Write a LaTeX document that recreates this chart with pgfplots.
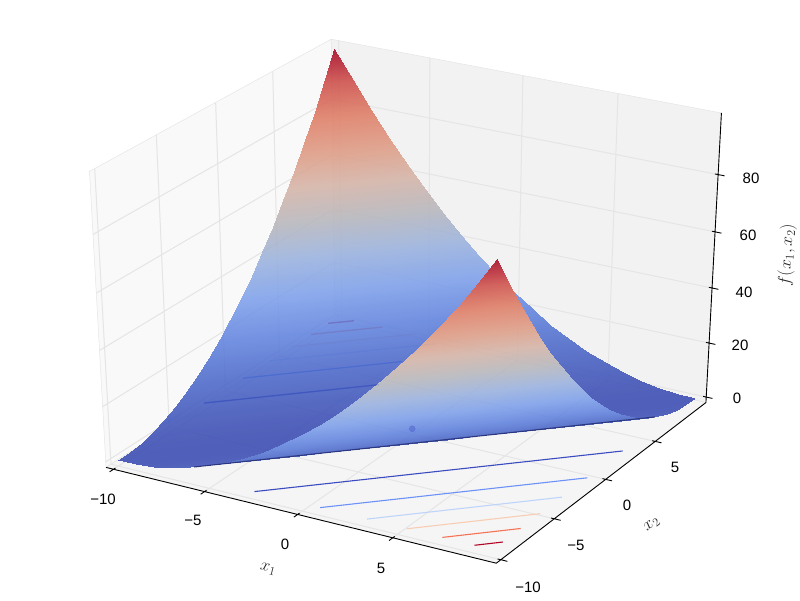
\documentclass[border=0pt]{standalone}
\usepackage{fontspec}
\setmainfont{Liberation Sans}
\usepackage{pgfplots}
\usepackage{pgfplotstable}
\pgfplotsset{compat=1.18}

% surface samples: x1 x2 f, far row first so that near rows paint over it
\pgfplotstableread[row sep=\\]{
a b c\\
-10 9.9 99.00\\ -9 9.9 89.30\\ -8 9.9 80.10\\ -7 9.9 71.40\\ -6 9.9 63.20\\ -5 9.9 55.50\\ -4 9.9 48.30\\ -3 9.9 41.60\\ -2 9.9 35.40\\ -1 9.9 29.70\\ 0 9.9 24.50\\ 1 9.9 19.80\\ 2 9.9 15.60\\ 3 9.9 11.90\\ 4 9.9 8.70\\ 5 9.9 6.00\\ 6 9.9 3.80\\ 7 9.9 2.10\\ 8 9.9 0.90\\ 9 9.9 0.20\\ 9.9 9.9 0\\
-10 9 90.25\\ -9 9 81\\ -8 9 72.25\\ -7 9 64\\ -6 9 56.25\\ -5 9 49\\ -4 9 42.25\\ -3 9 36\\ -2 9 30.25\\ -1 9 25\\ 0 9 20.25\\ 1 9 16\\ 2 9 12.25\\ 3 9 9\\ 4 9 6.25\\ 5 9 4\\ 6 9 2.25\\ 7 9 1\\ 8 9 0.25\\ 9 9 0\\ 9.9 9 0.20\\
-10 8 81\\ -9 8 72.25\\ -8 8 64\\ -7 8 56.25\\ -6 8 49\\ -5 8 42.25\\ -4 8 36\\ -3 8 30.25\\ -2 8 25\\ -1 8 20.25\\ 0 8 16\\ 1 8 12.25\\ 2 8 9\\ 3 8 6.25\\ 4 8 4\\ 5 8 2.25\\ 6 8 1\\ 7 8 0.25\\ 8 8 0\\ 9 8 0.25\\ 9.9 8 0.90\\
-10 7 72.25\\ -9 7 64\\ -8 7 56.25\\ -7 7 49\\ -6 7 42.25\\ -5 7 36\\ -4 7 30.25\\ -3 7 25\\ -2 7 20.25\\ -1 7 16\\ 0 7 12.25\\ 1 7 9\\ 2 7 6.25\\ 3 7 4\\ 4 7 2.25\\ 5 7 1\\ 6 7 0.25\\ 7 7 0\\ 8 7 0.25\\ 9 7 1\\ 9.9 7 2.10\\
-10 6 64\\ -9 6 56.25\\ -8 6 49\\ -7 6 42.25\\ -6 6 36\\ -5 6 30.25\\ -4 6 25\\ -3 6 20.25\\ -2 6 16\\ -1 6 12.25\\ 0 6 9\\ 1 6 6.25\\ 2 6 4\\ 3 6 2.25\\ 4 6 1\\ 5 6 0.25\\ 6 6 0\\ 7 6 0.25\\ 8 6 1\\ 9 6 2.25\\ 9.9 6 3.80\\
-10 5 56.25\\ -9 5 49\\ -8 5 42.25\\ -7 5 36\\ -6 5 30.25\\ -5 5 25\\ -4 5 20.25\\ -3 5 16\\ -2 5 12.25\\ -1 5 9\\ 0 5 6.25\\ 1 5 4\\ 2 5 2.25\\ 3 5 1\\ 4 5 0.25\\ 5 5 0\\ 6 5 0.25\\ 7 5 1\\ 8 5 2.25\\ 9 5 4\\ 9.9 5 6.00\\
-10 4 49\\ -9 4 42.25\\ -8 4 36\\ -7 4 30.25\\ -6 4 25\\ -5 4 20.25\\ -4 4 16\\ -3 4 12.25\\ -2 4 9\\ -1 4 6.25\\ 0 4 4\\ 1 4 2.25\\ 2 4 1\\ 3 4 0.25\\ 4 4 0\\ 5 4 0.25\\ 6 4 1\\ 7 4 2.25\\ 8 4 4\\ 9 4 6.25\\ 9.9 4 8.70\\
-10 3 42.25\\ -9 3 36\\ -8 3 30.25\\ -7 3 25\\ -6 3 20.25\\ -5 3 16\\ -4 3 12.25\\ -3 3 9\\ -2 3 6.25\\ -1 3 4\\ 0 3 2.25\\ 1 3 1\\ 2 3 0.25\\ 3 3 0\\ 4 3 0.25\\ 5 3 1\\ 6 3 2.25\\ 7 3 4\\ 8 3 6.25\\ 9 3 9\\ 9.9 3 11.90\\
-10 2 36\\ -9 2 30.25\\ -8 2 25\\ -7 2 20.25\\ -6 2 16\\ -5 2 12.25\\ -4 2 9\\ -3 2 6.25\\ -2 2 4\\ -1 2 2.25\\ 0 2 1\\ 1 2 0.25\\ 2 2 0\\ 3 2 0.25\\ 4 2 1\\ 5 2 2.25\\ 6 2 4\\ 7 2 6.25\\ 8 2 9\\ 9 2 12.25\\ 9.9 2 15.60\\
-10 1 30.25\\ -9 1 25\\ -8 1 20.25\\ -7 1 16\\ -6 1 12.25\\ -5 1 9\\ -4 1 6.25\\ -3 1 4\\ -2 1 2.25\\ -1 1 1\\ 0 1 0.25\\ 1 1 0\\ 2 1 0.25\\ 3 1 1\\ 4 1 2.25\\ 5 1 4\\ 6 1 6.25\\ 7 1 9\\ 8 1 12.25\\ 9 1 16\\ 9.9 1 19.80\\
-10 0 25\\ -9 0 20.25\\ -8 0 16\\ -7 0 12.25\\ -6 0 9\\ -5 0 6.25\\ -4 0 4\\ -3 0 2.25\\ -2 0 1\\ -1 0 0.25\\ 0 0 0\\ 1 0 0.25\\ 2 0 1\\ 3 0 2.25\\ 4 0 4\\ 5 0 6.25\\ 6 0 9\\ 7 0 12.25\\ 8 0 16\\ 9 0 20.25\\ 9.9 0 24.50\\
-10 -1 20.25\\ -9 -1 16\\ -8 -1 12.25\\ -7 -1 9\\ -6 -1 6.25\\ -5 -1 4\\ -4 -1 2.25\\ -3 -1 1\\ -2 -1 0.25\\ -1 -1 0\\ 0 -1 0.25\\ 1 -1 1\\ 2 -1 2.25\\ 3 -1 4\\ 4 -1 6.25\\ 5 -1 9\\ 6 -1 12.25\\ 7 -1 16\\ 8 -1 20.25\\ 9 -1 25\\ 9.9 -1 29.70\\
-10 -2 16\\ -9 -2 12.25\\ -8 -2 9\\ -7 -2 6.25\\ -6 -2 4\\ -5 -2 2.25\\ -4 -2 1\\ -3 -2 0.25\\ -2 -2 0\\ -1 -2 0.25\\ 0 -2 1\\ 1 -2 2.25\\ 2 -2 4\\ 3 -2 6.25\\ 4 -2 9\\ 5 -2 12.25\\ 6 -2 16\\ 7 -2 20.25\\ 8 -2 25\\ 9 -2 30.25\\ 9.9 -2 35.40\\
-10 -3 12.25\\ -9 -3 9\\ -8 -3 6.25\\ -7 -3 4\\ -6 -3 2.25\\ -5 -3 1\\ -4 -3 0.25\\ -3 -3 0\\ -2 -3 0.25\\ -1 -3 1\\ 0 -3 2.25\\ 1 -3 4\\ 2 -3 6.25\\ 3 -3 9\\ 4 -3 12.25\\ 5 -3 16\\ 6 -3 20.25\\ 7 -3 25\\ 8 -3 30.25\\ 9 -3 36\\ 9.9 -3 41.60\\
-10 -4 9\\ -9 -4 6.25\\ -8 -4 4\\ -7 -4 2.25\\ -6 -4 1\\ -5 -4 0.25\\ -4 -4 0\\ -3 -4 0.25\\ -2 -4 1\\ -1 -4 2.25\\ 0 -4 4\\ 1 -4 6.25\\ 2 -4 9\\ 3 -4 12.25\\ 4 -4 16\\ 5 -4 20.25\\ 6 -4 25\\ 7 -4 30.25\\ 8 -4 36\\ 9 -4 42.25\\ 9.9 -4 48.30\\
-10 -5 6.25\\ -9 -5 4\\ -8 -5 2.25\\ -7 -5 1\\ -6 -5 0.25\\ -5 -5 0\\ -4 -5 0.25\\ -3 -5 1\\ -2 -5 2.25\\ -1 -5 4\\ 0 -5 6.25\\ 1 -5 9\\ 2 -5 12.25\\ 3 -5 16\\ 4 -5 20.25\\ 5 -5 25\\ 6 -5 30.25\\ 7 -5 36\\ 8 -5 42.25\\ 9 -5 49\\ 9.9 -5 55.50\\
-10 -6 4\\ -9 -6 2.25\\ -8 -6 1\\ -7 -6 0.25\\ -6 -6 0\\ -5 -6 0.25\\ -4 -6 1\\ -3 -6 2.25\\ -2 -6 4\\ -1 -6 6.25\\ 0 -6 9\\ 1 -6 12.25\\ 2 -6 16\\ 3 -6 20.25\\ 4 -6 25\\ 5 -6 30.25\\ 6 -6 36\\ 7 -6 42.25\\ 8 -6 49\\ 9 -6 56.25\\ 9.9 -6 63.20\\
-10 -7 2.25\\ -9 -7 1\\ -8 -7 0.25\\ -7 -7 0\\ -6 -7 0.25\\ -5 -7 1\\ -4 -7 2.25\\ -3 -7 4\\ -2 -7 6.25\\ -1 -7 9\\ 0 -7 12.25\\ 1 -7 16\\ 2 -7 20.25\\ 3 -7 25\\ 4 -7 30.25\\ 5 -7 36\\ 6 -7 42.25\\ 7 -7 49\\ 8 -7 56.25\\ 9 -7 64\\ 9.9 -7 71.40\\
-10 -8 1\\ -9 -8 0.25\\ -8 -8 0\\ -7 -8 0.25\\ -6 -8 1\\ -5 -8 2.25\\ -4 -8 4\\ -3 -8 6.25\\ -2 -8 9\\ -1 -8 12.25\\ 0 -8 16\\ 1 -8 20.25\\ 2 -8 25\\ 3 -8 30.25\\ 4 -8 36\\ 5 -8 42.25\\ 6 -8 49\\ 7 -8 56.25\\ 8 -8 64\\ 9 -8 72.25\\ 9.9 -8 80.10\\
-10 -9 0.25\\ -9 -9 0\\ -8 -9 0.25\\ -7 -9 1\\ -6 -9 2.25\\ -5 -9 4\\ -4 -9 6.25\\ -3 -9 9\\ -2 -9 12.25\\ -1 -9 16\\ 0 -9 20.25\\ 1 -9 25\\ 2 -9 30.25\\ 3 -9 36\\ 4 -9 42.25\\ 5 -9 49\\ 6 -9 56.25\\ 7 -9 64\\ 8 -9 72.25\\ 9 -9 81\\ 9.9 -9 89.30\\
-10 -10 0\\ -9 -10 0.25\\ -8 -10 1\\ -7 -10 2.25\\ -6 -10 4\\ -5 -10 6.25\\ -4 -10 9\\ -3 -10 12.25\\ -2 -10 16\\ -1 -10 20.25\\ 0 -10 25\\ 1 -10 30.25\\ 2 -10 36\\ 3 -10 42.25\\ 4 -10 49\\ 5 -10 56.25\\ 6 -10 64\\ 7 -10 72.25\\ 8 -10 81\\ 9 -10 90.25\\ 9.9 -10 99.00\\
}\surfdata

\definecolor{paneL}{gray}{0.975}
\definecolor{paneB}{gray}{0.95}
\definecolor{paneF}{gray}{0.9625}
\definecolor{gridc}{gray}{0.9}
\definecolor{c1}{RGB}{59,76,192}
\definecolor{c2}{RGB}{108,146,250}
\definecolor{c3}{RGB}{190,212,250}
\definecolor{c4}{RGB}{248,205,180}
\definecolor{c5}{RGB}{245,115,85}
\definecolor{c6}{RGB}{180,4,38}

% mplot3d camera: elevation 30, azimuth -60, distance 10, result in pixels of 800x600
\pgfplotsset{table/prj/.style={
  x expr={prjx(\thisrow{a},\thisrow{b},\thisrow{c})},
  y expr={prjy(\thisrow{a},\thisrow{b},\thisrow{c})}}}

\begin{document}
\begin{tikzpicture}[
  declare function={
    qxy(\a)=(\a+10)/19.9-0.5;
    qz(\c)=\c/99-0.5;
    dep(\a,\b,\c)=10-(0.4330127*qxy(\a)-0.75*qxy(\b)+0.5*qz(\c));
    prjx(\a,\b,\c)=(10*(0.8660254*qxy(\a)+0.5*qxy(\b))/dep(\a,\b,\c)+0.95)*800/1.85;
    prjy(\a,\b,\c)=(10*(-0.25*qxy(\a)+0.4330127*qxy(\b)+0.8660254*qz(\c))/dep(\a,\b,\c)+0.95)*600/1.85;
  },
  tl/.style={font=\fontsize{15}{18}\selectfont,inner sep=0pt},
  ml/.style={font=\fontsize{17}{20}\selectfont,inner sep=0pt,color=black!85}]
\begin{axis}[
  scale only axis, width=800pt, height=600pt,
  xmin=0, xmax=800, ymin=0, ymax=600,
  hide axis, clip=false,
  colormap={coolwarm}{rgb255=(54,71,176) rgb255=(71,100,199) rgb255=(94,129,222) rgb255=(123,158,234)
    rgb255=(152,176,222) rgb255=(181,181,187) rgb255=(212,178,165) rgb255=(222,152,128)
    rgb255=(222,122,98) rgb255=(205,75,70) rgb255=(164,0,30)},
  point meta min=0, point meta max=99]
\path (axis cs:0,0) rectangle (axis cs:800,600);

% panes
\addplot[fill=paneL,draw=gridc,line width=0.5pt] table[prj]{
a b c
-10.4146 -10.4146 -2.0625
-10.4146 10.3146 -2.0625
-10.4146 10.3146 101.0625
-10.4146 -10.4146 101.0625
-10.4146 -10.4146 -2.0625
};
\addplot[fill=paneB,draw=gridc,line width=0.5pt] table[prj]{
a b c
-10.4146 10.3146 -2.0625
10.3146 10.3146 -2.0625
10.3146 10.3146 101.0625
-10.4146 10.3146 101.0625
-10.4146 10.3146 -2.0625
};
\addplot[fill=paneF,draw=gridc,line width=0.5pt] table[prj]{
a b c
-10.4146 -10.4146 -2.0625
10.3146 -10.4146 -2.0625
10.3146 10.3146 -2.0625
-10.4146 10.3146 -2.0625
-10.4146 -10.4146 -2.0625
};

% grid
\addplot[gridc,line width=1pt,empty line=jump] table[prj]{
a b c
-10 -10.4146 -2.0625
-10 10.3146 -2.0625
-10 10.3146 101.0625

-5 -10.4146 -2.0625
-5 10.3146 -2.0625
-5 10.3146 101.0625

0 -10.4146 -2.0625
0 10.3146 -2.0625
0 10.3146 101.0625

5 -10.4146 -2.0625
5 10.3146 -2.0625
5 10.3146 101.0625

10.3146 -10 -2.0625
-10.4146 -10 -2.0625
-10.4146 -10 101.0625

10.3146 -5 -2.0625
-10.4146 -5 -2.0625
-10.4146 -5 101.0625

10.3146 0 -2.0625
-10.4146 0 -2.0625
-10.4146 0 101.0625

10.3146 5 -2.0625
-10.4146 5 -2.0625
-10.4146 5 101.0625

-10.4146 -10.4146 0
-10.4146 10.3146 0
10.3146 10.3146 0

-10.4146 -10.4146 20
-10.4146 10.3146 20
10.3146 10.3146 20

-10.4146 -10.4146 40
-10.4146 10.3146 40
10.3146 10.3146 40

-10.4146 -10.4146 60
-10.4146 10.3146 60
10.3146 10.3146 60

-10.4146 -10.4146 80
-10.4146 10.3146 80
10.3146 10.3146 80
};

% contours on the floor, far side, up to where the near sheet hides them
\addplot[c1,line width=1.3pt] table[prj]{
a b c
-10 -2.55 0.8
-3.9 3.55 0.8
};
\addplot[c2,line width=1.3pt] table[prj]{
a b c
-10 0.95 0.8
-4.38 6.57 0.8
};
\addplot[c3,line width=1.3pt] table[prj]{
a b c
-10 3.42 0.8
-4.1 9.32 0.8
};
\addplot[c4,line width=1.3pt] table[prj]{
a b c
-10 5.49 0.8
-5.59 9.9 0.8
};
\addplot[c5,line width=1.3pt] table[prj]{
a b c
-10 7.32 0.8
-7.42 9.9 0.8
};
\addplot[c6,line width=1.3pt] table[prj]{
a b c
-10 8.97 0.8
-9.07 9.9 0.8
};
% contours on the floor, near side
\addplot[c1,line width=1.1pt] table[prj]{
a b c
-2.55 -10 0.8
9.9 2.45 0.8
};
\addplot[c2,line width=1.1pt] table[prj]{
a b c
0.95 -10 0.8
9.9 -1.05 0.8
};
\addplot[c3,line width=1.1pt] table[prj]{
a b c
3.42 -10 0.8
9.9 -3.52 0.8
};
\addplot[c4,line width=1.1pt] table[prj]{
a b c
5.49 -10 0.8
9.9 -5.59 0.8
};
\addplot[c5,line width=1.1pt] table[prj]{
a b c
7.32 -10 0.8
9.9 -7.42 0.8
};
\addplot[c6,line width=1.1pt] table[prj]{
a b c
8.97 -10 0.8
9.9 -9.07 0.8
};

% minimum, seen through the surface
\addplot[only marks,mark=*,mark size=3pt,color=c1,opacity=0.35,mark options={draw=none}] table[prj]{
a b c
0 0 0
};

% surface
\addplot[surf,shader=interp,mesh/rows=21,mesh/cols=21,opacity=0.86,point meta=\thisrow{c}]
  table[prj] {\surfdata};

% dark fold of the near sheet
\addplot[color={rgb,255:red,35;green,45;blue,115},line width=1.1pt,opacity=0.85] table[prj]{
a b c
-5.8 -10 4.41
9.9 5.7 4.41
};

% axis lines and ticks
\addplot[black,line width=0.9pt,empty line=jump] table[prj]{
a b c
-10.4146 -10.4146 -2.0625
10.3146 -10.4146 -2.0625
10.3146 10.3146 -2.0625
10.3146 10.3146 101.0625

-10 -10.7463 -2.0625
-10 -10.2488 -2.0625

-5 -10.7463 -2.0625
-5 -10.2488 -2.0625

0 -10.7463 -2.0625
0 -10.2488 -2.0625

5 -10.7463 -2.0625
5 -10.2488 -2.0625

10.6463 -10 -2.0625
10.1488 -10 -2.0625

10.6463 -5 -2.0625
10.1488 -5 -2.0625

10.6463 0 -2.0625
10.1488 0 -2.0625

10.6463 5 -2.0625
10.1488 5 -2.0625

10.6463 10.3146 0
10.1488 10.3146 0

10.6463 10.3146 20
10.1488 10.3146 20

10.6463 10.3146 40
10.1488 10.3146 40

10.6463 10.3146 60
10.1488 10.3146 60

10.6463 10.3146 80
10.1488 10.3146 80
};

% tick labels, pixel positions
\node[tl] at (axis cs:103,101) {−10};
\node[tl] at (axis cs:193,80) {−5};
\node[tl] at (axis cs:285,56) {0};
\node[tl] at (axis cs:381,32) {5};
\node[tl] at (axis cs:528,13) {−10};
\node[tl] at (axis cs:576,55) {−5};
\node[tl] at (axis cs:627,95) {0};
\node[tl] at (axis cs:675,133) {5};
\node[tl] at (axis cs:751,422) {80};
\node[tl] at (axis cs:748,365) {60};
\node[tl] at (axis cs:744,308) {40};
\node[tl] at (axis cs:740,255) {20};
\node[tl] at (axis cs:737,202) {0};
\node[ml,rotate=-14] at (axis cs:268,31) {$x_1$};
\node[ml,rotate=38] at (axis cs:652,75) {$x_2$};
\node[ml,rotate=87] at (axis cs:787,345) {$f(x_1,x_2)$};
\end{axis}
\end{tikzpicture}
\end{document}
